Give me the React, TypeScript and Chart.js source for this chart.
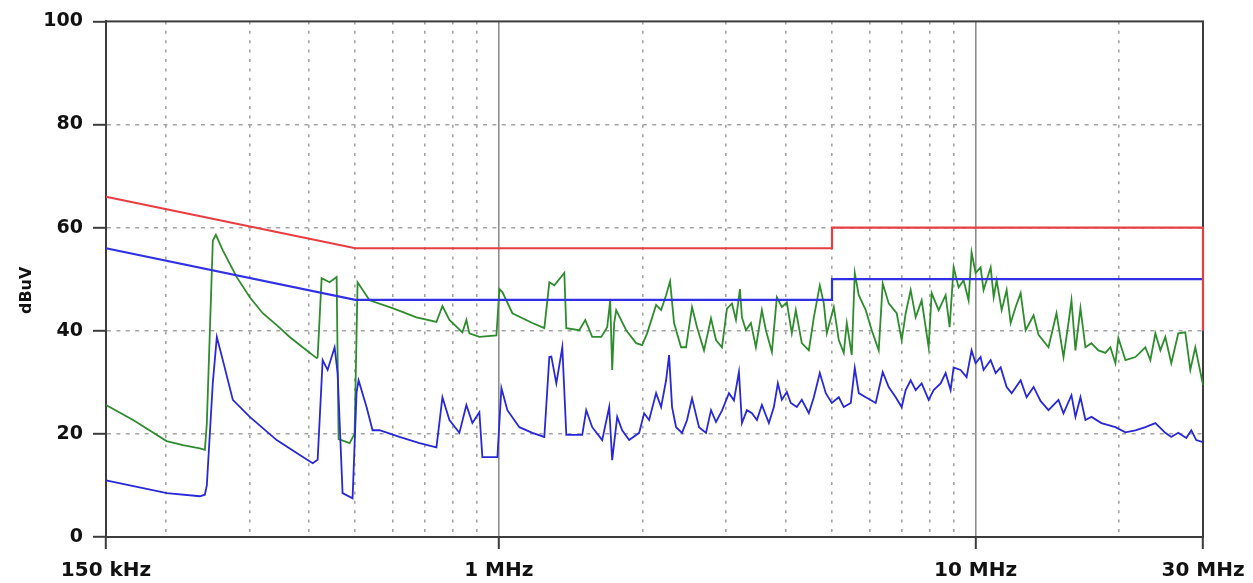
import React, { useEffect, useRef } from 'react';
import { Chart, registerables } from 'chart.js';

Chart.register(...registerables);

// Frequencies in MHz, levels in dBuV
const peakFreq = [
  0.150, 0.171, 0.185, 0.201, 0.2175, 0.236, 0.2418, 0.2441, 0.2513, 0.2550,
  0.2637, 0.2821, 0.3004, 0.3198, 0.3421, 0.3643, 0.3878, 0.4149, 0.4169, 0.4250,
  0.4417, 0.4569, 0.4613, 0.4865, 0.4983, 0.5056, 0.5357, 0.5985, 0.6721, 0.7400,
  0.7617, 0.7879, 0.8388, 0.8551, 0.8676, 0.9105, 0.9886, 1.0030, 1.0176, 1.0679,
  1.1761, 1.2460, 1.2765, 1.3076, 1.3722, 1.3856, 1.4749, 1.5182, 1.5703, 1.6400,
  1.6881, 1.7127, 1.7292, 1.7460, 1.7630, 1.8500, 1.9414, 1.9984, 2.0471, 2.1379,
  2.1900, 2.2434, 2.2871, 2.3316, 2.4116, 2.4705, 2.5430, 2.6050, 2.6944, 2.7869,
  2.8548, 2.9386, 3.0102, 3.0836, 3.1437, 3.2048, 3.2359, 3.2989, 3.3794, 3.4619,
  3.5634, 3.6328, 3.7394, 3.8306, 3.9240, 4.0197, 4.1176, 4.1978, 4.3210, 4.4703,
  4.5794, 4.7138, 4.8057, 4.8757, 5.0431, 5.1662, 5.2923, 5.3694, 5.5004, 5.5805,
  5.6893, 5.8846, 6.0573, 6.2652, 6.3873, 6.5748, 6.8334, 7.0002, 7.1366, 7.3107,
  7.4890, 7.7090, 7.9736, 8.0899, 8.3676, 8.6548, 8.8233, 8.9952, 9.2146, 9.4395,
  9.6699, 9.8108, 10.002, 10.246, 10.395, 10.758, 10.916, 11.074, 11.345, 11.622,
  11.849, 12.138, 12.434, 12.737, 13.238, 13.556, 14.224, 14.784, 15.293, 15.665,
  15.893, 16.203, 16.598, 17.003, 17.502, 18.102, 18.725, 19.182, 19.650, 19.935,
  20.625, 21.645, 22.71, 23.265, 23.835, 24.42, 25.005, 25.74, 26.625, 27.54,
  28.215, 28.905, 30.0,
];
const peakLevel = [
  25.6, 22.7, 20.7, 18.6, 17.8, 17.2, 16.9, 22.0, 57.5, 58.6,
  55.6, 50.4, 46.5, 43.4, 41.1, 38.8, 36.8, 34.7, 34.9, 50.2,
  49.4, 50.4, 19.0, 18.2, 20.0, 49.4, 45.9, 44.4, 42.6, 41.7,
  44.8, 42.1, 39.7, 42.1, 39.5, 38.8, 39.1, 48.1, 47.5, 43.4,
  41.5, 40.5, 49.4, 48.8, 51.2, 40.5, 40.1, 42.1, 38.8, 38.8,
  40.7, 45.9, 32.4, 41.5, 44.0, 40.1, 37.6, 37.2, 39.5, 45.0,
  44.0, 46.9, 49.6, 41.5, 36.8, 36.8, 44.6, 40.7, 36.2, 42.4,
  38.2, 36.8, 44.3, 45.3, 42.1, 48.1, 42.6, 40.1, 41.5, 36.8,
  44.0, 40.1, 35.9, 46.5, 44.6, 45.5, 39.5, 44.0, 37.6, 36.2,
  42.6, 48.8, 45.3, 39.5, 44.6, 38.2, 35.7, 41.5, 35.3, 51.2,
  46.9, 44.0, 40.1, 36.2, 49.2, 45.3, 43.4, 38.2, 43.4, 47.9,
  42.6, 45.9, 36.8, 47.3, 44.0, 46.9, 40.7, 52.3, 48.4, 49.8,
  45.9, 55.2, 51.2, 52.3, 47.9, 52.3, 46.5, 49.8, 44.0, 47.9,
  41.5, 44.6, 47.3, 40.1, 43.0, 39.2, 36.8, 43.4, 34.9, 41.5,
  45.9, 36.2, 44.4, 36.8, 37.6, 36.2, 35.7, 36.8, 33.7, 38.6,
  34.3, 34.9, 36.8, 34.3, 39.5, 36.2, 38.8, 33.7, 39.5, 39.7,
  32.4, 36.8, 29.5,
];

const avgFreq = [
  0.150, 0.2013, 0.236, 0.2418, 0.2441, 0.2513, 0.2562, 0.2637, 0.2768, 0.3004,
  0.3421, 0.3768, 0.4070, 0.4169, 0.4271, 0.4375, 0.4525, 0.4591, 0.4703, 0.4935,
  0.5031, 0.5080, 0.5280, 0.5435, 0.5622, 0.6190, 0.6819, 0.7400, 0.7617, 0.7879,
  0.8267, 0.8551, 0.8802, 0.9105, 0.9237, 0.9933, 1.0127, 1.0424, 1.1045, 1.1761,
  1.2460, 1.2765, 1.2890, 1.3203, 1.3591, 1.3856, 1.4964, 1.5255, 1.5703, 1.6479,
  1.7044, 1.7292, 1.7715, 1.8146, 1.8770, 1.9697, 2.0177, 2.0669, 2.1379, 2.1900,
  2.2434, 2.2761, 2.3092, 2.3542, 2.4233, 2.4825, 2.5430, 2.6303, 2.7205, 2.7869,
  2.8548, 2.9386, 3.0394, 3.1135, 3.1894, 3.2359, 3.3149, 3.3958, 3.4786, 3.5634,
  3.6857, 3.7756, 3.8491, 3.9240, 4.0197, 4.0978, 4.2181, 4.3210, 4.4703, 4.5794,
  4.7138, 4.8523, 4.9947, 5.1662, 5.2923, 5.4739, 5.5805, 5.6893, 5.8846, 6.1753,
  6.3873, 6.5748, 6.8005, 7.0002, 7.1366, 7.3107, 7.4890, 7.7090, 7.9736, 8.1683,
  8.4487, 8.6548, 8.8660, 8.9952, 9.3039, 9.5771, 9.8108, 10.002, 10.246, 10.395,
  10.758, 11.021, 11.290, 11.622, 11.906, 12.434, 12.798, 13.238, 13.687, 14.224,
  14.928, 15.293, 15.893, 16.203, 16.598, 17.003, 17.502, 18.366, 19.650, 20.625,
  21.645, 22.71, 23.835, 25.005, 25.74, 26.625, 27.675, 28.35, 29.04, 30.0,
];
const avgLevel = [
  11.0, 8.5, 7.9, 8.2, 10.0, 30.0, 38.8, 34.3, 26.6, 23.3,
  18.8, 16.3, 14.3, 15.0, 34.3, 32.4, 36.8, 31.8, 8.5, 7.5,
  28.0, 30.4, 25.2, 20.7, 20.7, 19.4, 18.2, 17.4, 27.1, 22.7,
  20.2, 25.6, 22.1, 24.2, 15.5, 15.5, 28.9, 24.6, 21.3, 20.2,
  19.4, 34.9, 35.0, 29.8, 36.8, 19.8, 19.8, 24.6, 21.3, 18.8,
  25.2, 14.9, 23.3, 20.7, 18.8, 20.2, 24.0, 22.7, 27.9, 25.2,
  30.4, 35.3, 25.2, 21.3, 20.2, 22.7, 26.9, 21.3, 20.2, 24.6,
  22.3, 24.5, 27.9, 26.5, 32.0, 22.1, 24.6, 24.0, 22.7, 25.6,
  22.1, 25.2, 29.8, 26.6, 28.1, 26.0, 25.2, 26.6, 24.0, 27.1,
  31.8, 27.9, 26.0, 27.1, 25.2, 26.0, 32.8, 27.9, 27.1, 26.0,
  32.0, 29.1, 27.1, 25.2, 28.5, 30.4, 28.5, 29.8, 26.6, 28.5,
  29.8, 31.8, 28.5, 32.9, 32.4, 31.0, 36.2, 33.7, 34.9, 32.4,
  34.3, 31.8, 32.9, 29.1, 27.9, 30.4, 27.1, 29.1, 26.4, 24.6,
  26.6, 24.0, 27.5, 23.3, 27.1, 22.7, 23.3, 22.1, 21.3, 20.3,
  20.7, 21.3, 22.1, 20.2, 19.4, 20.2, 19.2, 20.7, 18.8, 18.4,
];

const qpLimitFreq = [0.15, 0.5, 5, 5, 30, 30];
const qpLimitLevel = [66, 56, 56, 60, 60, 40];
const avLimitFreq = [0.15, 0.5, 5, 5, 30];
const avLimitLevel = [56, 46, 46, 50, 50];

const xGridValues = [0.15, 0.2, 0.3, 0.4, 0.5, 0.6, 0.7, 0.8, 0.9, 1, 2, 3, 4, 5, 6, 7, 8, 9, 10, 20, 30];
const xLabelValues = [0.15, 1, 10, 30];
const xLabelTexts = ['150 kHz', '1 MHz', '10 MHz', '30 MHz'];
const xMajorValues = [1, 10];
const yTickValues = [0, 20, 40, 60, 80, 100];

const zip = (xs: number[], ys: number[]) => xs.map((x, i) => ({ x, y: ys[i] }));

const framePlugin = {
  id: 'frame',
  beforeDatasetsDraw(chart: any) {
    const { ctx, chartArea: a } = chart;
    ctx.save();
    ctx.strokeStyle = '#3c3c3c';
    ctx.lineWidth = 2;
    ctx.strokeRect(a.left, a.top, a.right - a.left, a.bottom - a.top);
    ctx.restore();
  },
};

export default function App() {
  const canvasRef = useRef<HTMLCanvasElement | null>(null);

  useEffect(() => {
    document.body.style.margin = '0';
    const canvas = canvasRef.current;
    if (!canvas) return;
    Chart.defaults.font.family = "'DejaVu Sans', sans-serif";

    const chart = new Chart(canvas, {
      type: 'line',
      data: {
        datasets: [
          {
            label: 'QP limit',
            data: zip(qpLimitFreq, qpLimitLevel),
            borderColor: 'rgb(232, 62, 66)',
            borderWidth: 2.2,
            pointRadius: 0,
            order: 1,
            clip: 4,
          },
          {
            label: 'AV limit',
            data: zip(avLimitFreq, avLimitLevel),
            borderColor: 'rgb(48, 48, 228)',
            borderWidth: 2.2,
            pointRadius: 0,
            order: 2,
            clip: 4,
          },
          {
            label: 'Average',
            data: zip(avgFreq, avgLevel),
            borderColor: 'rgb(40, 40, 215)',
            borderWidth: 1.8,
            pointRadius: 0,
            order: 3,
            clip: 4,
          },
          {
            label: 'Peak',
            data: zip(peakFreq, peakLevel),
            borderColor: 'rgb(46, 140, 46)',
            borderWidth: 1.8,
            pointRadius: 0,
            order: 4,
            clip: 4,
          },
        ],
      },
      options: {
        animation: false,
        responsive: false,
        layout: { padding: { left: 0, right: 50, top: 21, bottom: 0 } },
        plugins: {
          legend: { display: false },
          tooltip: { enabled: false },
        },
        elements: { line: { tension: 0 } },
        scales: {
          x: {
            type: 'logarithmic',
            min: 0.15,
            max: 30,
            afterBuildTicks: (scale: any) => {
              scale.ticks = xGridValues.map((v) => ({ value: v }));
            },
            afterFit: (scale: any) => {
              scale.height = 46;
              scale.paddingLeft = 0;
              scale.paddingRight = 0;
            },
            ticks: {
              autoSkip: false,
              maxRotation: 0,
              minRotation: 0,
              padding: 10,
              color: '#111',
              font: { size: 20, weight: 'bold' },
              callback: (value: any) => {
                const i = xLabelValues.indexOf(Number(value));
                return i >= 0 ? xLabelTexts[i] : '';
              },
            },
            grid: {
              color: (ctx: any) => {
                const v = ctx.tick ? ctx.tick.value : null;
                if (v === 0.15 || v === 30) return 'rgba(0,0,0,0)';
                if (xMajorValues.includes(v)) return '#8e8e8e';
                return '#a4a4a4';
              },
              lineWidth: 1.6,
              tickLength: 12,
              tickWidth: 2,
              tickColor: (ctx: any) => {
                const v = ctx.tick ? ctx.tick.value : null;
                return xLabelValues.includes(v) ? '#3c3c3c' : 'rgba(0,0,0,0)';
              },
            },
            border: {
              display: true,
              color: '#3c3c3c',
              width: 2,
              dash: (ctx: any) => {
                const v = ctx.tick ? ctx.tick.value : null;
                return xMajorValues.includes(v) ? [] : [3, 6.4];
              },
            },
          },
          y: {
            type: 'linear',
            min: 0,
            max: 100,
            afterBuildTicks: (scale: any) => {
              scale.ticks = yTickValues.map((v) => ({ value: v }));
            },
            afterFit: (scale: any) => {
              scale.width = 106;
            },
            ticks: {
              padding: 10,
              color: '#111',
              font: { size: 19, weight: 'bold' },
            },
            title: {
              display: true,
              text: 'dBuV    ',
              color: '#111',
              font: { size: 16, weight: 'bold' },
              padding: { top: 17, bottom: 0 },
            },
            grid: {
              color: (ctx: any) => {
                const v = ctx.tick ? ctx.tick.value : null;
                if (v === 0 || v === 100) return 'rgba(0,0,0,0)';
                return '#a4a4a4';
              },
              lineWidth: 1.6,
              tickLength: 13,
              tickWidth: 2,
              tickColor: '#3c3c3c',
            },
            border: {
              display: true,
              color: '#3c3c3c',
              width: 2,
              dash: [4, 5.4],
            },
          },
        },
      },
      plugins: [framePlugin],
    } as any);

    return () => {
      chart.destroy();
    };
  }, []);

  return (
    <div style={{ width: 1253, height: 583, position: 'relative', background: '#fff' }}>
      <canvas ref={canvasRef} width={1253} height={583} style={{ width: 1253, height: 583, display: 'block' }} />
    </div>
  );
}
